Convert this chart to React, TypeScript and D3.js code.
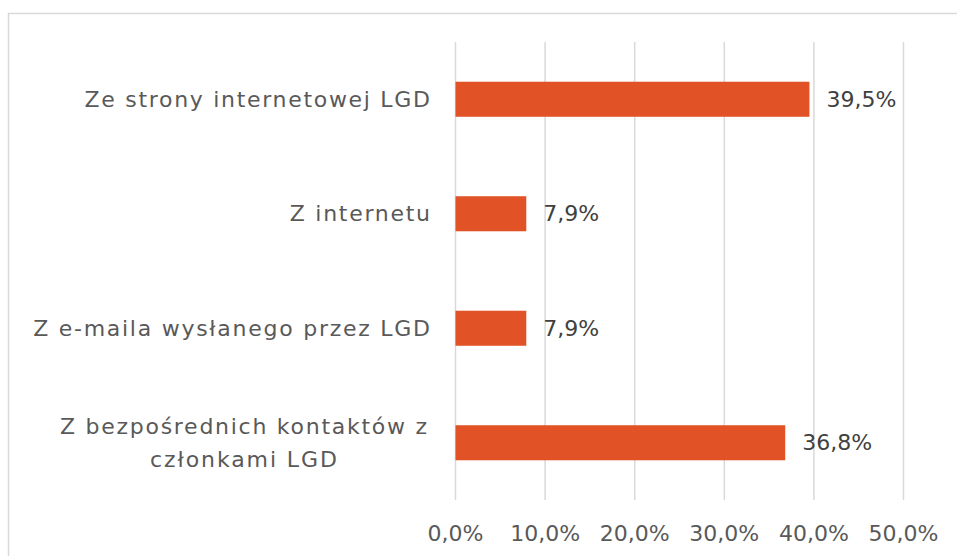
import React from "react";
import * as d3 from "d3";

const categories: string[][] = [
  ["Ze strony internetowej LGD"],
  ["Z internetu"],
  ["Z e-maila wysłanego przez LGD"],
  ["Z bezpośrednich kontaktów z", "członkami LGD"],
];
const values: number[] = [39.5, 7.9, 7.9, 36.8];
const ticks: number[] = [0, 10, 20, 30, 40, 50];

const W = 957;
const H = 556;
const FONT = "'DejaVu Sans', sans-serif";
const TXT = "#595959";

const fmt = (v: number) => v.toFixed(1).replace(".", ",") + "%";

// approximate width stretch to mimic the wide original typeface
const widthFactor = 1.14;

export default function App() {
  const x = d3.scaleLinear().domain([0, 50]).range([455.5, 903.5]);
  const y = d3
    .scaleBand<number>()
    .domain(categories.map((_, i) => i))
    .range([42, 500])
    .paddingInner(0.694)
    .paddingOuter(0.347);

  const measure = (s: string) => {
    if (typeof document === "undefined") return 0;
    const c = document.createElement("canvas").getContext("2d");
    if (!c) return 0;
    c.font = "22px 'DejaVu Sans'";
    return c.measureText(s).width;
  };

  return (
    <svg
      width={W}
      height={H}
      style={{ position: "absolute", left: 0, top: 0, background: "#fff" }}
      fontFamily={FONT}
    >
      <rect x={8.5} y={13.5} width={W + 10} height={H + 10} fill="#fff" stroke="#d9d9d9" strokeWidth={1.5} />
      {ticks.map((t) => (
        <line key={t} x1={x(t)} x2={x(t)} y1={42} y2={500} stroke="#d9d9d9" strokeWidth={1.5} />
      ))}
      {values.map((v, i) => (
        <rect
          key={i}
          x={x(0)}
          y={y(i)}
          width={x(v) - x(0)}
          height={y.bandwidth()}
          fill="#E15327"
        />
      ))}
      {values.map((v, i) => (
        <text
          key={"v" + i}
          x={x(v) + 17}
          y={(y(i) as number) + y.bandwidth() / 2}
          dy="0.35em"
          fontSize={22}
          fill="#404040"
        >
          {fmt(v)}
        </text>
      ))}
      {categories.map((lines, i) => {
        const cy = (y(i) as number) + y.bandwidth() / 2;
        if (lines.length === 1) {
          const w = measure(lines[0]) * widthFactor;
          return (
            <text
              key={"c" + i}
              x={430}
              y={cy}
              dy="0.35em"
              textAnchor="end"
              fontSize={22}
              fill={TXT}
              textLength={w || undefined}
              lengthAdjust="spacing"
            >
              {lines[0]}
            </text>
          );
        }
        const lh = 33;
        const cx = 243.5;
        return (
          <g key={"c" + i}>
            {lines.map((l, j) => {
              const w = measure(l) * widthFactor;
              return (
                <text
                  key={j}
                  x={cx}
                  y={cy + (j - (lines.length - 1) / 2) * lh}
                  dy="0.35em"
                  textAnchor="middle"
                  fontSize={22}
                  fill={TXT}
                  textLength={w || undefined}
                  lengthAdjust="spacing"
                >
                  {l}
                </text>
              );
            })}
          </g>
        );
      })}
      {ticks.map((t) => (
        <text key={"t" + t} x={x(t)} y={533} dy="0.35em" textAnchor="middle" fontSize={22} fill={TXT}>
          {fmt(t)}
        </text>
      ))}
    </svg>
  );
}
